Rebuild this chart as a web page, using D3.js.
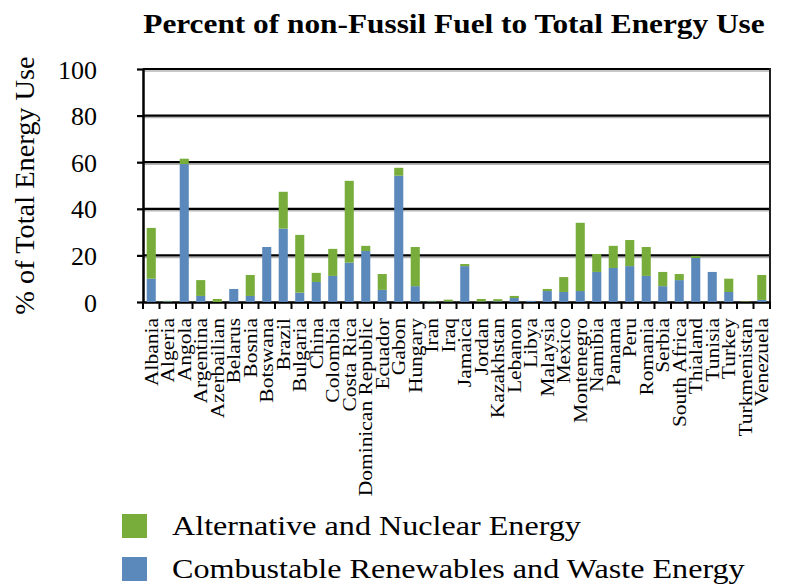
<!DOCTYPE html>
<html>
<head>
<meta charset="utf-8">
<script src="https://cdn.jsdelivr.net/npm/d3@7"></script>
<style>
  html, body { margin: 0; padding: 0; background: #fff; }
  svg { display: block; }
  text { font-family: "Liberation Serif", "DejaVu Serif", serif; fill: #000; }
</style>
</head>
<body>
<svg id="chart" width="787" height="585"></svg>
<script>
const countries = ["Albania","Algeria","Angola","Argentina","Azerbailian","Belarus","Bosnia","Botswana","Brazil","Bulgaria","China","Colombia","Costa Rica","Dominican Republic","Ecuador","Gabon","Hungary","Iran","Iraq","Jamaica","Jordan","Kazakhstan","Lebanon","Libya","Malaysia","Mexico","Montenegro","Namibia","Panama","Peru","Romania","Serbia","South Africa","Thialand","Tunisia","Turkey","Turkmenistan","Venezuela"];
const combustible = [10.0,0.3,59.2,2.6,0.0,5.6,2.6,23.6,31.5,4.0,8.6,11.2,16.9,21.9,5.2,54.2,6.8,0.3,0.2,15.4,0.2,0.3,1.7,0.5,4.7,4.3,4.7,12.9,14.6,15.4,11.2,6.8,9.4,18.9,12.9,4.3,0.0,0.9];
const alternative = [21.8,0.2,2.3,6.8,1.3,0.0,9.0,0.0,15.8,24.8,3.9,11.6,35.1,2.2,6.8,3.4,16.8,0.2,0.8,0.9,1.1,0.9,0.9,0.0,0.9,6.4,29.3,7.7,9.5,11.2,12.4,6.1,2.6,0.9,0.0,5.7,0.2,10.7];
const yTicks = [0,20,40,60,80,100];
const seriesNames = ["Alternative and Nuclear Energy","Combustable Renewables and Waste Energy"];
const seriesColors = ["#78ad3c","#5b89bb"];
const titleText = "Percent of non-Fussil Fuel to Total Energy Use";
const yTitle = "% of Total Energy Use";

(function () {
const svg = d3.select("#chart");
const pL = 143, pR = 770, pT = 69, pB = 302;
const widen = 1.13; // reference typeface is wider than the available serif

function stretch(sel, factor) {
  sel.each(function () {
    const w = this.getComputedTextLength();
    d3.select(this).attr("textLength", w * factor).attr("lengthAdjust", "spacingAndGlyphs");
  });
}

const x = d3.scaleBand().domain(countries).range([pL, pR]).paddingInner(0.45).paddingOuter(0.225);
const y = d3.scaleLinear().domain([0, 100]).range([pB, pT]);

const rows = countries.map((c, i) => ({country: c, combustible: combustible[i], alternative: alternative[i]}));
const layers = d3.stack().keys(["combustible", "alternative"])(rows);

// title
svg.append("text")
  .attr("x", 454).attr("y", 33)
  .attr("text-anchor", "middle")
  .style("font-size", "27px").style("font-weight", "bold")
  .text(titleText)
  .call(stretch, 1.16);

// gridlines with shadow
const gridVals = yTicks.filter(v => v > 0);
svg.append("g").selectAll("line").data(gridVals).enter().append("line")
  .attr("x1", pL).attr("x2", pR)
  .attr("y1", d => y(d) + 2).attr("y2", d => y(d) + 2)
  .attr("stroke", "#b5b5b5").attr("stroke-width", 1.5);
svg.append("g").selectAll("line").data(gridVals).enter().append("line")
  .attr("x1", pL).attr("x2", pR)
  .attr("y1", d => y(d)).attr("y2", d => y(d))
  .attr("stroke", "#000").attr("stroke-width", 2.2);

// right border
svg.append("line").attr("x1", pR).attr("x2", pR).attr("y1", y(100) - 1).attr("y2", pB)
  .attr("stroke", "#222").attr("stroke-width", 2);

// y axis
const yAxis = svg.append("g").attr("transform", `translate(${pL},0)`)
  .call(d3.axisLeft(y).tickValues(yTicks).tickSize(6).tickSizeOuter(0).tickPadding(40));
yAxis.select(".domain").attr("stroke", "#000").attr("stroke-width", 2.5);
yAxis.selectAll(".tick line").attr("stroke", "#000").attr("stroke-width", 2.2);
yAxis.selectAll(".tick text").style("font-size", "26px").attr("font-family", null).attr("dy", "0.35em");

// x axis
const xAxis = svg.append("g").attr("transform", `translate(0,${pB})`)
  .call(d3.axisBottom(x).tickSize(0).tickSizeOuter(0));
xAxis.select(".domain").attr("stroke", "#000").attr("stroke-width", 2.5);
xAxis.selectAll(".tick text")
  .attr("font-family", null)
  .style("font-size", "19px")
  .attr("text-anchor", "end")
  .attr("transform", "translate(0,16) rotate(-90)")
  .attr("x", 0).attr("y", 0).attr("dy", "0.35em")
  .call(stretch, widen);
// boundary ticks
const step = x.step();
const bounds = d3.range(countries.length + 1).map(i => pL + i * step);
xAxis.append("g").selectAll("line").data(bounds).enter().append("line")
  .attr("x1", d => d).attr("x2", d => d).attr("y1", 0).attr("y2", 7)
  .attr("stroke", "#000").attr("stroke-width", 2);

// bars
svg.append("g").selectAll("g").data(layers).enter().append("g")
  .attr("fill", (d, i) => seriesColors[1 - i])
  .selectAll("rect").data(d => d).enter().append("rect")
  .attr("x", d => x(d.data.country))
  .attr("width", x.bandwidth())
  .attr("y", d => y(d[1]))
  .attr("height", d => Math.max(0, y(d[0]) - y(d[1])));

// y title
svg.append("text")
  .attr("transform", `translate(34,${(pT + pB) / 2}) rotate(-90)`)
  .attr("text-anchor", "middle")
  .style("font-size", "27px")
  .text(yTitle)
  .call(stretch, 1.05);

// legend
const legend = svg.append("g");
seriesNames.forEach((name, i) => {
  const ly = 514 + i * 43;
  legend.append("rect").attr("x", 122).attr("y", ly).attr("width", 25).attr("height", 24).attr("fill", seriesColors[i]);
  legend.append("text").attr("x", 172).attr("y", ly + 21).style("font-size", "27px").text(name)
    .call(stretch, 1.19);
});
})();
</script>
</body>
</html>
